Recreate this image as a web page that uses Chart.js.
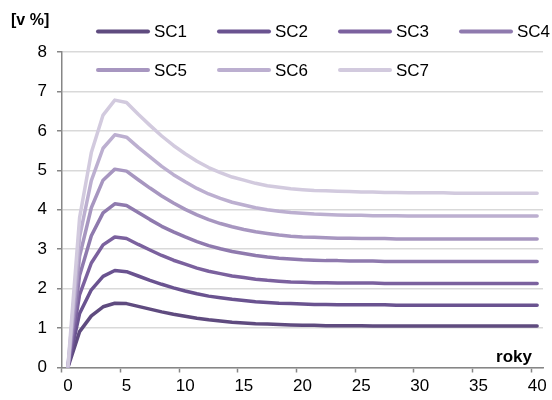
<!DOCTYPE html>
<html>
<head>
<meta charset="utf-8">
<script src="https://cdn.jsdelivr.net/npm/chart.js@4"></script>
<style>
  html, body { margin: 0; padding: 0; background: #fff; }
  #wrap { width: 552px; height: 400px; position: relative; }
</style>
</head>
<body>
<div id="wrap"><canvas id="c" width="552" height="400"></canvas></div>
<script>
const years = Array.from({length: 41}, (_, i) => String(i));
const seriesNames = ['SC1', 'SC2', 'SC3', 'SC4', 'SC5', 'SC6', 'SC7'];
const seriesColors = ['#5f4b7f', '#6a5390', '#7b619e', '#8f7aae', '#a796c0', '#bcafd0', '#d2cade'];
const yTicks = [0, 1, 2, 3, 4, 5, 6, 7, 8];

const sc1 = [0, 0.91, 1.31, 1.54, 1.63, 1.62, 1.55, 1.48, 1.41, 1.35, 1.30, 1.25, 1.21, 1.18, 1.15, 1.13, 1.11, 1.10, 1.09, 1.08, 1.07, 1.07, 1.06, 1.06, 1.06, 1.06, 1.05, 1.05, 1.05, 1.05, 1.05, 1.05, 1.05, 1.05, 1.05, 1.05, 1.05, 1.05, 1.05, 1.05, 1.05];
const sc2 = [0, 1.37, 1.97, 2.31, 2.46, 2.43, 2.32, 2.21, 2.11, 2.02, 1.94, 1.87, 1.81, 1.77, 1.73, 1.70, 1.67, 1.65, 1.63, 1.62, 1.61, 1.60, 1.60, 1.59, 1.59, 1.59, 1.59, 1.59, 1.58, 1.58, 1.58, 1.58, 1.58, 1.58, 1.58, 1.58, 1.58, 1.58, 1.58, 1.58, 1.58];
const sc3 = [0, 1.85, 2.65, 3.11, 3.31, 3.27, 3.12, 2.98, 2.84, 2.72, 2.62, 2.52, 2.44, 2.38, 2.32, 2.28, 2.24, 2.21, 2.19, 2.17, 2.16, 2.15, 2.15, 2.14, 2.14, 2.14, 2.14, 2.13, 2.13, 2.13, 2.13, 2.13, 2.13, 2.13, 2.13, 2.13, 2.13, 2.13, 2.13, 2.13, 2.13];
const sc4 = [0, 2.33, 3.34, 3.92, 4.15, 4.11, 3.93, 3.75, 3.58, 3.44, 3.31, 3.19, 3.09, 3.01, 2.94, 2.89, 2.84, 2.80, 2.77, 2.75, 2.73, 2.72, 2.71, 2.71, 2.70, 2.70, 2.70, 2.69, 2.69, 2.69, 2.69, 2.69, 2.69, 2.69, 2.69, 2.69, 2.69, 2.69, 2.69, 2.69, 2.69];
const sc5 = [0, 2.82, 4.05, 4.75, 5.03, 4.98, 4.76, 4.55, 4.35, 4.17, 4.01, 3.87, 3.75, 3.65, 3.57, 3.50, 3.44, 3.40, 3.36, 3.33, 3.31, 3.30, 3.29, 3.28, 3.28, 3.27, 3.27, 3.27, 3.26, 3.26, 3.26, 3.26, 3.26, 3.26, 3.26, 3.26, 3.26, 3.26, 3.26, 3.26, 3.26];
const sc6 = [0, 3.31, 4.74, 5.56, 5.90, 5.84, 5.58, 5.34, 5.10, 4.89, 4.71, 4.54, 4.40, 4.29, 4.19, 4.12, 4.05, 4.00, 3.96, 3.93, 3.91, 3.89, 3.88, 3.87, 3.86, 3.86, 3.85, 3.85, 3.85, 3.84, 3.84, 3.84, 3.84, 3.84, 3.84, 3.84, 3.84, 3.84, 3.84, 3.84, 3.84];
const sc7 = [0, 3.80, 5.45, 6.40, 6.78, 6.72, 6.42, 6.14, 5.87, 5.63, 5.42, 5.23, 5.07, 4.94, 4.83, 4.75, 4.67, 4.61, 4.57, 4.53, 4.51, 4.49, 4.48, 4.47, 4.46, 4.45, 4.45, 4.44, 4.44, 4.43, 4.43, 4.43, 4.43, 4.42, 4.42, 4.42, 4.42, 4.42, 4.42, 4.42, 4.42];
const seriesValues = [sc1, sc2, sc3, sc4, sc5, sc6, sc7];

const FONT = "'Liberation Sans Narrow', 'Arial Narrow', 'Liberation Sans', Arial, sans-serif";

const overlay = {
  id: 'overlay',
  afterDraw(chart) {
    const ctx = chart.ctx;
    ctx.save();
    // legend
    chart.data.datasets.forEach((ds, i) => {
      const col = i % 4, row = Math.floor(i / 4);
      const x0 = 96 + col * 121;
      const y = 31.5 + row * 38.5;
      ctx.strokeStyle = ds.borderColor;
      ctx.lineWidth = 4;
      ctx.lineCap = 'round';
      ctx.beginPath();
      ctx.moveTo(x0 + 2, y);
      ctx.lineTo(x0 + 52, y);
      ctx.stroke();
      ctx.fillStyle = '#000';
      ctx.font = '17px ' + FONT;
      ctx.textAlign = 'left';
      ctx.textBaseline = 'middle';
      ctx.fillText(ds.label, x0 + 58, y + 1);
    });
    // titles
    ctx.fillStyle = '#000';
    ctx.font = 'bold 16px ' + FONT;
    ctx.textAlign = 'left';
    ctx.textBaseline = 'alphabetic';
    ctx.fillText('[v %]', 11, 25);
    ctx.textAlign = 'right';
    ctx.font = 'bold 17px ' + FONT;
    ctx.fillText('roky', 532, 362);
    ctx.restore();
  }
};

new Chart(document.getElementById('c'), {
  type: 'line',
  data: {
    labels: years,
    datasets: seriesNames.map((name, i) => ({
      label: name,
      data: seriesValues[i],
      borderColor: seriesColors[i],
      backgroundColor: seriesColors[i],
      borderWidth: 3.5,
      pointRadius: 0,
      tension: 0,
      fill: false,
      borderCapStyle: 'round',
      borderJoinStyle: 'round',
      order: 6 - i
    }))
  },
  options: {
    responsive: false,
    animation: false,
    layout: { padding: { top: 52, right: 9, left: 0, bottom: 0 } },
    plugins: { legend: { display: false }, tooltip: { enabled: false }, title: { display: false } },
    scales: {
      x: {
        type: 'category',
        offset: true,
        grid: {
          offset: true,
          drawOnChartArea: false,
          drawTicks: true,
          tickLength: 5,
          tickWidth: 1.5,
          tickColor: (c) => (c.index % 5 === 0 ? '#868686' : 'rgba(0,0,0,0)')
        },
        border: { color: '#868686', width: 1.5 },
        ticks: {
          autoSkip: false,
          maxRotation: 0,
          padding: 4,
          color: '#000',
          font: { family: FONT, size: 17 },
          callback: function (v, i) { return i % 5 === 0 ? this.getLabelForValue(v) : ''; }
        },
        afterFit: (s) => { s.height = 32.5; }
      },
      y: {
        min: 0,
        max: 8,
        grid: {
          color: '#d9d9d9',
          lineWidth: 1.5,
          tickLength: 5,
          tickColor: '#868686',
          tickWidth: 1.5
        },
        border: { color: '#868686', width: 1.5 },
        ticks: {
          stepSize: 1,
          padding: 10,
          color: '#000',
          font: { family: FONT, size: 17 },
          callback: (v) => (yTicks.includes(v) ? String(v) : '')
        },
        afterFit: (s) => { s.width = 62; }
      }
    }
  },
  plugins: [overlay]
});
</script>
</body>
</html>
